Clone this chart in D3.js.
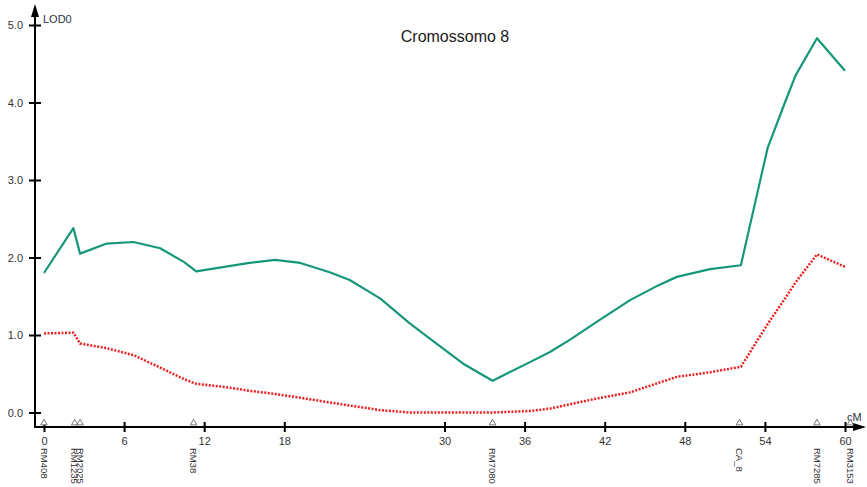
<!DOCTYPE html>
<html>
<head>
<meta charset="utf-8">
<script src="https://cdn.jsdelivr.net/npm/d3@7"></script>
<style>
  body { margin: 0; background: #fff; }
  svg { display: block; font-family: "Liberation Sans", Arial, sans-serif; }
</style>
</head>
<body>
<svg id="chart" width="867" height="487"></svg>
<script>
// Chart data (cM positions and LOD scores)
const positions = [0, 2.2, 2.7, 4.7, 6.7, 8.7, 10.5, 11.4, 13.5, 15.4, 17.3, 19.2, 21.4, 22.9, 25.2, 27.4, 29.4, 31.4, 33.6, 36.4, 37.9, 39.5, 41.4, 43.9, 46.0, 47.4, 49.9, 52.2, 54.2, 55.5, 56.3, 57.9, 60];
const lodGreen = [1.80, 2.38, 2.05, 2.18, 2.20, 2.12, 1.94, 1.82, 1.88, 1.93, 1.97, 1.93, 1.81, 1.71, 1.47, 1.15, 0.89, 0.63, 0.41, 0.65, 0.78, 0.95, 1.17, 1.45, 1.64, 1.75, 1.85, 1.90, 3.41, 4.00, 4.35, 4.83, 4.41];
const lodRed = [1.02, 1.03, 0.89, 0.83, 0.74, 0.58, 0.43, 0.37, 0.33, 0.28, 0.24, 0.19, 0.13, 0.09, 0.03, 0.0, 0.0, 0.0, 0.0, 0.02, 0.05, 0.11, 0.18, 0.26, 0.38, 0.46, 0.52, 0.59, 1.14, 1.47, 1.68, 2.04, 1.88];

const markerNames = ['RM408', 'RM1235', 'RM2025', 'RM38', 'RM7080', 'CA_8', 'RM7285', 'RM3153'];
const markerPos = [0, 2.3, 2.7, 11.2, 33.6, 52.1, 57.9, 60.4];

const xTicks = [0, 6, 12, 18, 30, 36, 42, 48, 54, 60];
const yTicks = [0, 1, 2, 3, 4, 5];

const svg = d3.select('#chart');

// Scales
const x = d3.scaleLinear().domain([0, 60]).range([44, 845]);
const y = d3.scaleLinear().domain([0, 5]).range([412.5, 25]);

const axisX = 35;   // where the y axis line sits
const axisY = 427;  // where the x axis line sits

// Title
svg.append('text')
  .attr('x', 455)
  .attr('y', 42)
  .attr('text-anchor', 'middle')
  .style('font-size', '16px')
  .style('fill', '#1a1a1a')
  .text('Cromossomo 8');

// Y axis
const yAxis = svg.append('g')
  .attr('transform', `translate(${axisX},0)`)
  .call(d3.axisLeft(y).tickValues(yTicks).tickFormat(d3.format('.1f')).tickSize(6).tickPadding(6));
yAxis.select('.domain').remove();
yAxis.selectAll('line').attr('x1', 6).attr('x2', -6).attr('stroke', '#000').attr('stroke-width', 2);
yAxis.selectAll('text').style('font-size', '11px').style('fill', '#333').attr('font-family', null);

// X axis
const xAxis = svg.append('g')
  .attr('transform', `translate(0,${axisY})`)
  .call(d3.axisBottom(x).tickValues(xTicks).tickSize(5).tickPadding(5));
xAxis.select('.domain').remove();
xAxis.selectAll('line').attr('y1', -5).attr('y2', 5).attr('stroke', '#000').attr('stroke-width', 2);
xAxis.selectAll('text').style('font-size', '11px').style('fill', '#333').attr('font-family', null);

// Axis lines with arrowheads
svg.append('line')
  .attr('x1', axisX).attr('y1', axisY + 1)
  .attr('x2', axisX).attr('y2', 14)
  .attr('stroke', '#000').attr('stroke-width', 2);
svg.append('path')
  .attr('d', `M${axisX},4 L${axisX - 4},17 L${axisX + 4},17 Z`)
  .attr('fill', '#000');

svg.append('line')
  .attr('x1', axisX - 1).attr('y1', axisY)
  .attr('x2', 856).attr('y2', axisY)
  .attr('stroke', '#000').attr('stroke-width', 2);
svg.append('path')
  .attr('d', `M866,${axisY} L853,${axisY - 4} L853,${axisY + 4} Z`)
  .attr('fill', '#000');

// Axis titles
svg.append('text')
  .attr('x', 43).attr('y', 23)
  .style('font-size', '11px')
  .style('fill', '#2a3444')
  .text('LOD0');

svg.append('text')
  .attr('x', 847).attr('y', 421)
  .style('font-size', '11px')
  .style('fill', '#2a3444')
  .text('cM');

// Marker triangles on the axis
const tri = d3.symbol().type(d3.symbolTriangle).size(18);
svg.selectAll('.marker')
  .data(markerPos)
  .enter()
  .append('path')
  .attr('class', 'marker')
  .attr('transform', d => `translate(${x(d)},${axisY - 4})`)
  .attr('d', tri)
  .attr('fill', '#fff')
  .attr('stroke', '#555')
  .attr('stroke-width', 0.8);

// Marker names, rotated
svg.selectAll('.marker-label')
  .data(markerNames)
  .enter()
  .append('text')
  .attr('class', 'marker-label')
  .attr('transform', (d, i) => `translate(${x(markerPos[i])},448) rotate(90)`)
  .attr('dy', '0.35em')
  .style('font-size', '9.5px')
  .style('fill', '#333')
  .text(d => d);

// LOD curves
const lineGreen = d3.line()
  .x((d, i) => x(positions[i]))
  .y(d => y(d));

svg.append('path')
  .datum(lodGreen)
  .attr('fill', 'none')
  .attr('stroke', '#16977a')
  .attr('stroke-width', 2.2)
  .attr('stroke-linejoin', 'round')
  .attr('d', lineGreen);

svg.append('path')
  .datum(lodRed)
  .attr('fill', 'none')
  .attr('stroke', '#ec2020')
  .attr('stroke-width', 2.5)
  .attr('stroke-dasharray', '2,1.5')
  .attr('d', lineGreen);
</script>
</body>
</html>
